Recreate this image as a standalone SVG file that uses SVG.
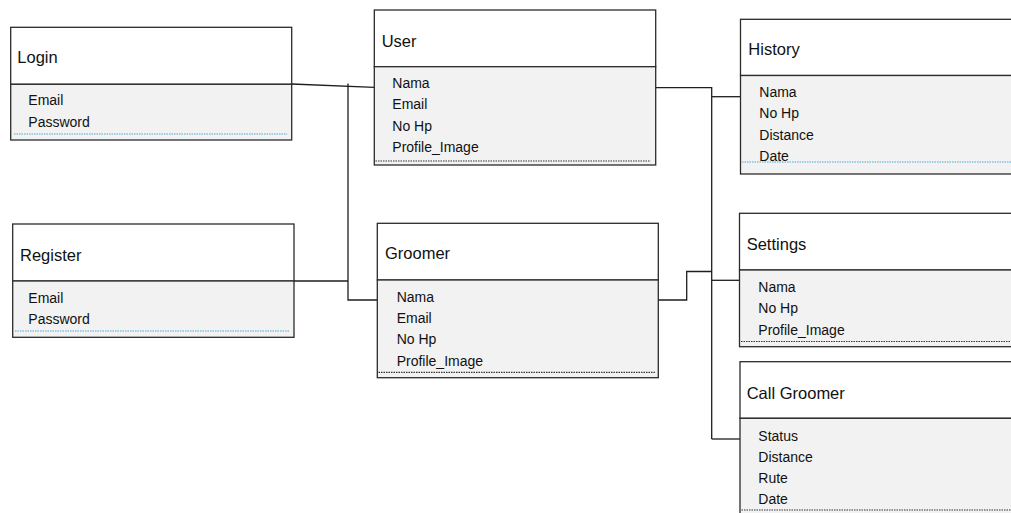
<svg xmlns="http://www.w3.org/2000/svg" width="1011" height="513" viewBox="0 0 1011 513">
<style>
.hd{fill:#ffffff;stroke:#2b2b2b;stroke-width:1.3}
.bd{fill:#f2f2f2;stroke:#2b2b2b;stroke-width:1.3}
.t{font-family:"Liberation Sans",Arial,sans-serif;font-size:16.5px;fill:#111}
.a{font-family:"Liberation Sans",Arial,sans-serif;font-size:14px;fill:#111}
.db{stroke:#4aa8d8;stroke-width:1.2;stroke-dasharray:1.5 1;fill:none}
.dk{stroke:#333;stroke-width:1.2;stroke-dasharray:1.5 1;fill:none}
.c{fill:none;stroke:#1e1e1e;stroke-width:1.3}
</style>
<rect width="1011" height="513" fill="#ffffff"/>
<g id="connectors">
<path class="c" d="M291.7 84 L374.3 87.3"/>
<path class="c" d="M348 83.5 V300 H377.3"/>
<path class="c" d="M294 281 H348"/>
<path class="c" d="M655.7 87.7 H711.7 V439"/>
<path class="c" d="M711.7 96.7 H740.5"/>
<path class="c" d="M658.3 300 H686.7 V271.5 H711.7"/>
<path class="c" d="M711.7 280.3 H739.5"/>
<path class="c" d="M711.7 439 H740"/>
</g>
<g id="login">
<rect class="hd" x="10.7" y="27.3" width="281" height="57"/>
<rect class="bd" x="10.7" y="84.3" width="281" height="55.7"/>
<text class="t" x="17.3" y="62.7">Login</text>
<text class="a" x="28.3" y="105">Email</text>
<text class="a" x="28.3" y="126.5">Password</text>
<line class="db" x1="14" y1="134" x2="287.3" y2="134"/>
</g>
<g id="user">
<rect class="hd" x="374.3" y="10" width="281.4" height="56.7"/>
<rect class="bd" x="374.3" y="66.7" width="281.4" height="98.3"/>
<text class="t" x="381.7" y="46.7">User</text>
<text class="a" x="392.3" y="87.5">Nama</text>
<text class="a" x="392.3" y="109">Email</text>
<text class="a" x="392.3" y="130.5">No Hp</text>
<text class="a" x="392.3" y="152">Profile_Image</text>
<line class="dk" x1="375.5" y1="161" x2="650.7" y2="161"/>
</g>
<g id="history">
<rect class="hd" x="740.5" y="19.3" width="290" height="56.2"/>
<rect class="bd" x="740.5" y="75.5" width="290" height="98.5"/>
<text class="t" x="748.3" y="55">History</text>
<text class="a" x="759.3" y="97">Nama</text>
<text class="a" x="759.3" y="118.2">No Hp</text>
<text class="a" x="759.3" y="139.5">Distance</text>
<text class="a" x="759.3" y="160.5">Date</text>
<line class="db" x1="742" y1="162" x2="1011" y2="162"/>
</g>
<g id="register">
<rect class="hd" x="12.7" y="224" width="281.3" height="57"/>
<rect class="bd" x="12.7" y="281" width="281.3" height="56.3"/>
<text class="t" x="20" y="260.7">Register</text>
<text class="a" x="28.3" y="303">Email</text>
<text class="a" x="28.3" y="324">Password</text>
<line class="db" x1="15" y1="331" x2="290" y2="331"/>
</g>
<g id="groomer">
<rect class="hd" x="377.3" y="223.3" width="281" height="56.7"/>
<rect class="bd" x="377.3" y="280" width="281" height="97.7"/>
<text class="t" x="385" y="259">Groomer</text>
<text class="a" x="396.7" y="301.5">Nama</text>
<text class="a" x="396.7" y="322.8">Email</text>
<text class="a" x="396.7" y="344.2">No Hp</text>
<text class="a" x="396.7" y="365.5">Profile_Image</text>
<line class="dk" x1="378.5" y1="372.3" x2="655" y2="372.3"/>
</g>
<g id="settings">
<rect class="hd" x="739.5" y="213.3" width="290" height="56.7"/>
<rect class="bd" x="739.5" y="270" width="290" height="76.7"/>
<text class="t" x="746.7" y="250">Settings</text>
<text class="a" x="758.3" y="291.7">Nama</text>
<text class="a" x="758.3" y="313">No Hp</text>
<text class="a" x="758.3" y="334.5">Profile_Image</text>
<line class="dk" x1="741" y1="341.5" x2="1011" y2="341.5"/>
</g>
<g id="call-groomer">
<rect class="hd" x="740" y="361.7" width="290" height="56.6"/>
<rect class="bd" x="740" y="418.3" width="290" height="110"/>
<text class="t" x="746.7" y="399.3">Call Groomer</text>
<text class="a" x="758.3" y="440.7">Status</text>
<text class="a" x="758.3" y="461.8">Distance</text>
<text class="a" x="758.3" y="483">Rute</text>
<text class="a" x="758.3" y="504">Date</text>
<line class="dk" x1="741.5" y1="510" x2="1011" y2="510"/>
</g>
</svg>
